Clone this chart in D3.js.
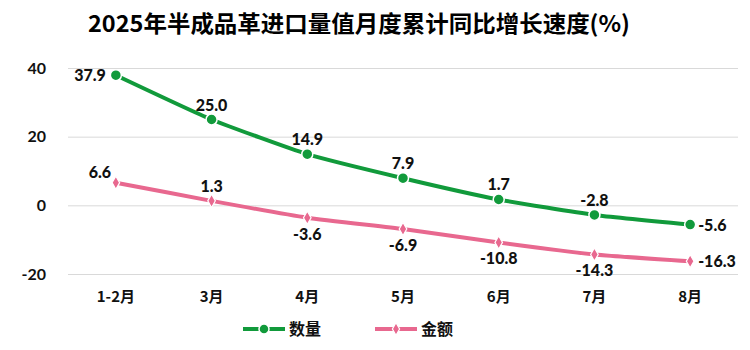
<!DOCTYPE html>
<html><head><meta charset="utf-8">
<script src="https://cdn.jsdelivr.net/npm/d3@7"></script>
<style>body{margin:0;background:#fff}svg{display:block}</style>
</head><body><svg id="c" width="750" height="350"></svg>
<script>
const categories = ["1-2月","3月","4月","5月","6月","7月","8月"];
const qty = [37.9,25.0,14.9,7.9,1.7,-2.8,-5.6];
const amt = [6.6,1.3,-3.6,-6.9,-10.8,-14.3,-16.3];
const yTicks = [-20,0,20,40];
const seriesNames = ["数量","金额"];
const qtyLabelPos = ["left","above","above","above","above","above","right"];
const amtLabelPos = ["aboveleft","above","below","below","below","below","right"];

const svg = d3.select("#c");
const green="#119a3b", pink="#e8688f";
const numFont="Lato, 'Noto Sans CJK SC', sans-serif";
const cjk="'Noto Sans CJK SC', sans-serif";

const x = d3.scaleBand().domain(categories).range([68,738]);
const y = d3.scaleLinear().domain([-20,40]).range([274,68]);
const cx = c => x(c)+x.bandwidth()/2;

svg.append("text").attr("x",359).attr("y",32).attr("text-anchor","middle")
  .attr("font-family",cjk).attr("font-weight","bold").attr("font-size",23).attr("fill","#000")
  .attr("textLength",542).attr("lengthAdjust","spacingAndGlyphs")
  .text("2025年半成品革进口量值月度累计同比增长速度(%)");

const gAxis = svg.append("g").attr("transform","translate(68,0)")
  .call(d3.axisLeft(y).tickValues(yTicks).tickSize(-670).tickFormat(d=>d).tickPadding(22));
gAxis.select(".domain").remove();
gAxis.selectAll(".tick line").attr("stroke","#d9d9d9").attr("stroke-width",1);
gAxis.selectAll(".tick text").attr("font-family",numFont).attr("font-weight","bold")
  .attr("font-size",16).attr("fill","#111");

const xAxis = svg.append("g").attr("transform","translate(0,285)")
  .call(d3.axisBottom(x).tickSize(0).tickPadding(6));
xAxis.select(".domain").remove();
xAxis.selectAll("text").attr("font-family",cjk).attr("font-weight","bold")
  .attr("font-size",15).attr("fill","#111");

const line = d3.line().x((d,i)=>cx(categories[i])).y(d=>y(d)).curve(d3.curveCardinal.tension(0.5));

function series(vals,color,shape,pos){
  svg.append("path").datum(vals).attr("d",line).attr("fill","none")
    .attr("stroke",color).attr("stroke-width",4).attr("stroke-linecap","round");
  vals.forEach((v,i)=>{
    const px=cx(categories[i]), py=y(v);
    if(shape==="circle"){
      svg.append("circle").attr("cx",px).attr("cy",py).attr("r",5.5)
        .attr("fill",color).attr("stroke","#fff").attr("stroke-width",1.5);
    } else {
      svg.append("path").attr("d",d3.symbol().type(d3.symbolDiamond).size(50)())
        .attr("transform",`translate(${px},${py})`)
        .attr("fill",color).attr("stroke","#fff").attr("stroke-width",1.2);
    }
    let tx=px, ty=py, anchor="middle";
    const p=pos[i];
    if(p==="left"){tx=px-10;ty=py+6;anchor="end";}
    else if(p==="above"){ty=py-9;}
    else if(p==="below"){ty=py+22;}
    else if(p==="right"){tx=px+8;ty=py+6;anchor="start";}
    else if(p==="aboveleft"){tx=px-16;ty=py-5;}
    svg.append("text").attr("x",tx).attr("y",ty).attr("text-anchor",anchor)
      .attr("font-family",numFont).attr("font-weight","900").attr("font-size",16)
      .attr("fill","#111").text(v.toFixed(1));
  });
}
series(qty,green,"circle",qtyLabelPos);
series(amt,pink,"diamond",amtLabelPos);

const leg=[{n:seriesNames[0],c:green,s:"circle",x:243},{n:seriesNames[1],c:pink,s:"diamond",x:375}];
leg.forEach(l=>{
  const ly=329;
  svg.append("line").attr("x1",l.x).attr("x2",l.x+42).attr("y1",ly).attr("y2",ly)
    .attr("stroke",l.c).attr("stroke-width",4);
  if(l.s==="circle") svg.append("circle").attr("cx",l.x+21).attr("cy",ly).attr("r",5)
    .attr("fill",l.c).attr("stroke","#fff").attr("stroke-width",1.5);
  else svg.append("path").attr("d",d3.symbol().type(d3.symbolDiamond).size(45)())
    .attr("transform",`translate(${l.x+21},${ly})`).attr("fill",l.c).attr("stroke","#fff").attr("stroke-width",1.2);
  svg.append("text").attr("x",l.x+46).attr("y",ly+6).attr("font-family",cjk).attr("font-weight","bold")
    .attr("font-size",16).attr("fill","#111").text(l.n);
});
</script></body></html>
